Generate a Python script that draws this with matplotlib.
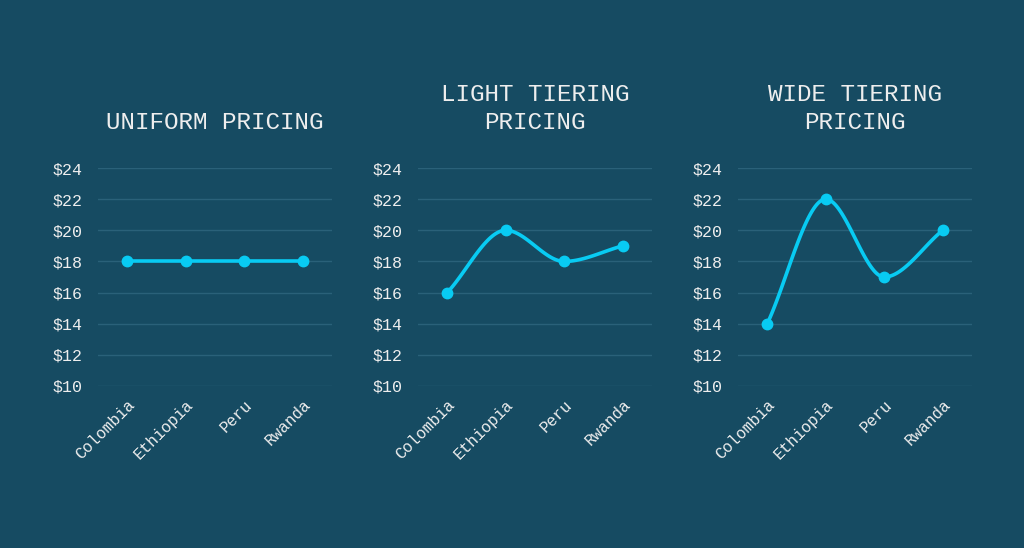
import numpy as np
import matplotlib
matplotlib.use("Agg")
import matplotlib.pyplot as plt

categories = ["Colombia", "Ethiopia", "Peru", "Rwanda"]
uniform = [18, 18, 18, 18]
light = [16, 20, 18, 19]
wide = [14, 22, 17, 20]
titles = ["UNIFORM PRICING", "LIGHT TIERING\nPRICING", "WIDE TIERING\nPRICING"]
yticks = [10, 12, 14, 16, 18, 20, 22, 24]

BG = "#164b62"
LINE = "#08cbf3"
GRID = "#2a6179"
TXT = "#eeeeee"
FONT = ["Liberation Mono", "DejaVu Sans Mono"]


def monotone(x, y, n=40):
    x = np.asarray(x, float); y = np.asarray(y, float)
    h = np.diff(x); d = np.diff(y) / h
    m = np.zeros_like(y)
    m[0] = d[0]; m[-1] = d[-1]
    for i in range(1, len(y) - 1):
        if d[i - 1] * d[i] <= 0:
            m[i] = 0
        else:
            m[i] = (d[i - 1] + d[i]) / 2
    for i in range(len(d)):
        if d[i] == 0:
            m[i] = m[i + 1] = 0
        else:
            a = m[i] / d[i]; b = m[i + 1] / d[i]
            s = a * a + b * b
            if s > 9:
                t = 3 / np.sqrt(s)
                m[i] = t * a * d[i]; m[i + 1] = t * b * d[i]
    xs, ys = [], []
    for i in range(len(d)):
        t = np.linspace(0, 1, n)
        h00 = 2 * t**3 - 3 * t**2 + 1; h10 = t**3 - 2 * t**2 + t
        h01 = -2 * t**3 + 3 * t**2; h11 = t**3 - t**2
        xs.append(x[i] + t * h[i])
        ys.append(h00 * y[i] + h10 * h[i] * m[i] + h01 * y[i + 1] + h11 * h[i] * m[i + 1])
    return np.concatenate(xs), np.concatenate(ys)


fig = plt.figure(figsize=(10.24, 5.48), dpi=100, facecolor=BG)
lefts = [98, 418, 738]
W, top, bottom = 234, 168, 386
H = 548
for k, (vals, title) in enumerate(zip([uniform, light, wide], titles)):
    ax = fig.add_axes([lefts[k] / 1024, (H - bottom) / H, W / 1024, (bottom - top) / H])
    ax.set_facecolor(BG)
    x = np.arange(len(categories))
    sx, sy = monotone(x, vals)
    ax.plot(sx, sy, color=LINE, lw=2.6, solid_capstyle="round", zorder=3)
    ax.plot(x, vals, "o", color=LINE, ms=7.5, zorder=4)
    ax.set_xlim(-0.5, 3.5)
    ax.set_ylim(10, 24)
    ax.set_yticks(yticks)
    ax.set_yticklabels([f"${v}" for v in yticks], family=FONT, fontsize=12, color=TXT)
    ax.set_xticks(x)
    ax.set_xticklabels(categories, family=FONT, fontsize=11.5, color=TXT,
                       rotation=45, ha="right", rotation_mode="anchor")
    ax.tick_params(axis="y", length=0, pad=11.5)
    ax.tick_params(axis="x", length=0, pad=8)
    ax.grid(axis="y", color=GRID, lw=1)
    ax.set_axisbelow(True)
    for s in ax.spines.values():
        s.set_visible(False)
    fig.text((lefts[k] + W / 2) / 1024, (H - 129) / H, title, ha="center", va="baseline",
             family=FONT, fontsize=17.5, color=TXT, linespacing=1.26)

fig.savefig("out.png", dpi=100, facecolor=BG)
